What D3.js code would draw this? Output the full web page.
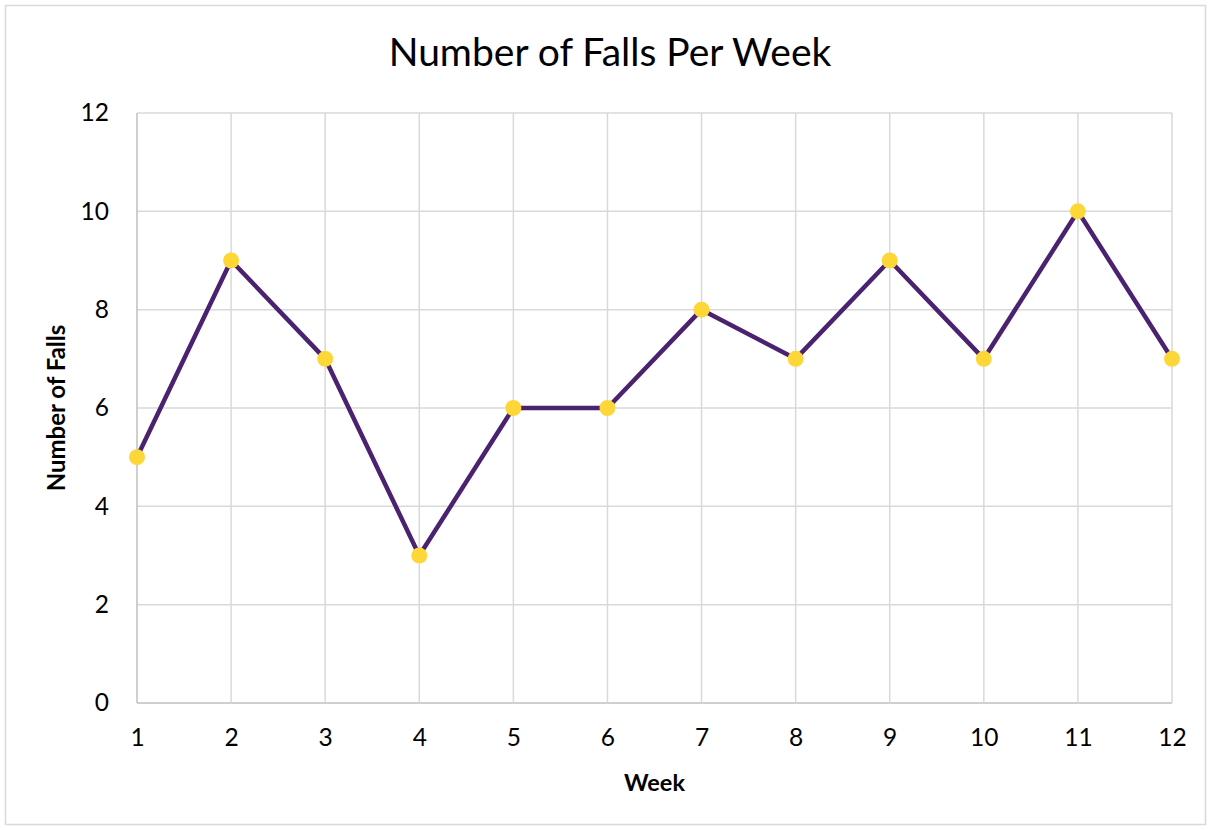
<!DOCTYPE html>
<html>
<head>
<meta charset="utf-8">
<script src="https://cdn.jsdelivr.net/npm/d3@7"></script>
<style>
  body { margin: 0; background: #fff; }
  svg { display: block; font-family: Lato, "Open Sans", sans-serif; }
</style>
</head>
<body>
<svg id="chart" width="1211" height="830"></svg>
<script>
const weeks = [1, 2, 3, 4, 5, 6, 7, 8, 9, 10, 11, 12];
const falls = [5, 9, 7, 3, 6, 6, 8, 7, 9, 7, 10, 7];
const yTicks = [0, 2, 4, 6, 8, 10, 12];

const svg = d3.select("#chart");
const W = 1211, H = 830;
const m = { left: 137, right: 1172, top: 113, bottom: 703 };

// outer chart border
svg.append("rect")
  .attr("x", 5.5).attr("y", 5.5)
  .attr("width", W - 11).attr("height", H - 11)
  .attr("fill", "#fff").attr("stroke", "#d9d9d9").attr("stroke-width", 1.5);

const x = d3.scalePoint().domain(weeks).range([m.left, m.right]);
const y = d3.scaleLinear().domain([0, 12]).range([m.bottom, m.top]);

// horizontal gridlines
svg.append("g")
  .selectAll("line")
  .data(yTicks)
  .join("line")
  .attr("x1", m.left).attr("x2", m.right)
  .attr("y1", (d) => y(d)).attr("y2", (d) => y(d))
  .attr("stroke", (d) => (d === 0 ? "#bfbfbf" : "#d9d9d9"))
  .attr("stroke-width", 1.5);

// vertical gridlines
svg.append("g")
  .selectAll("line")
  .data(weeks)
  .join("line")
  .attr("x1", (d) => x(d)).attr("x2", (d) => x(d))
  .attr("y1", m.top).attr("y2", m.bottom)
  .attr("stroke", (d, i) => (i === 0 ? "#bfbfbf" : "#d9d9d9"))
  .attr("stroke-width", 1.5);

// axes labels via d3 axes, domain/ticks hidden
const xAxis = svg.append("g")
  .attr("transform", `translate(0,${m.bottom})`)
  .call(d3.axisBottom(x).tickSize(0).tickPadding(26));
const yAxis = svg.append("g")
  .attr("transform", `translate(${m.left},0)`)
  .call(d3.axisLeft(y).tickValues(yTicks).tickSize(0).tickPadding(28));
[xAxis, yAxis].forEach((g) => {
  g.select(".domain").remove();
  g.selectAll("text")
    .attr("font-family", "Lato, 'Open Sans', sans-serif")
    .attr("font-size", 24.5)
    .attr("fill", "#000");
});

// line + markers
const line = d3.line()
  .x((d, i) => x(weeks[i]))
  .y((d) => y(d));

svg.append("path")
  .datum(falls)
  .attr("d", line)
  .attr("fill", "none")
  .attr("stroke", "#4a2270")
  .attr("stroke-width", 4.5)
  .attr("stroke-linejoin", "round");

svg.append("g")
  .selectAll("circle")
  .data(falls)
  .join("circle")
  .attr("cx", (d, i) => x(weeks[i]))
  .attr("cy", (d) => y(d))
  .attr("r", 8)
  .attr("fill", "#fdd637");

// titles
svg.append("text")
  .attr("x", 610).attr("y", 66)
  .attr("text-anchor", "middle")
  .attr("font-size", 39)
  .attr("fill", "#000")
  .text("Number of Falls Per Week");

svg.append("text")
  .attr("x", (m.left + m.right) / 2).attr("y", 791)
  .attr("text-anchor", "middle")
  .attr("font-size", 23.5)
  .attr("font-weight", "bold")
  .attr("fill", "#000")
  .text("Week");

svg.append("text")
  .attr("transform", `translate(65,${(m.top + m.bottom) / 2}) rotate(-90)`)
  .attr("text-anchor", "middle")
  .attr("font-size", 24)
  .attr("font-weight", "bold")
  .attr("fill", "#000")
  .text("Number of Falls");
</script>
</body>
</html>
